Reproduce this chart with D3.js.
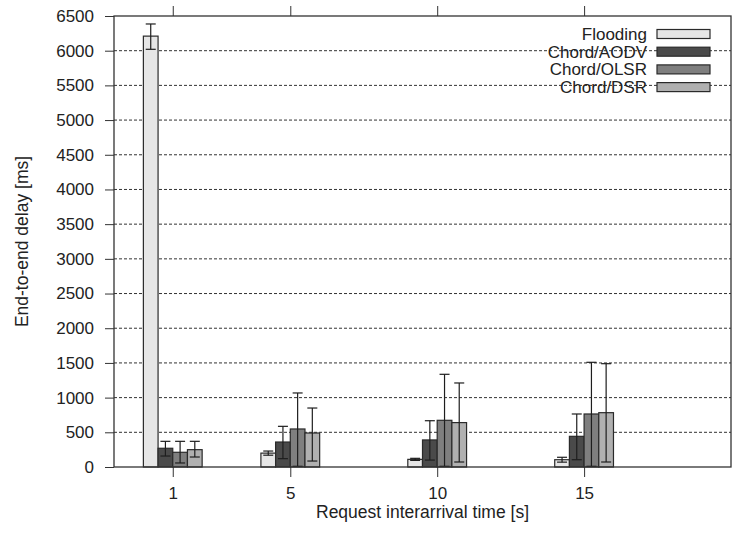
<!DOCTYPE html>
<html>
<head>
<meta charset="utf-8">
<script src="https://cdn.jsdelivr.net/npm/d3@7"></script>
<style>
  body { margin: 0; background: #fff; }
  text { font-family: "Liberation Sans", Arial, sans-serif; fill: #222; }
</style>
</head>
<body>
<div id="chart"></div>
<script>
// data
var xValues = [1, 5, 10, 15];
var seriesNames = ["Flooding", "Chord/AODV", "Chord/OLSR", "Chord/DSR"];
var seriesColors = ["#e6e6e6", "#4a4a4a", "#7f7f7f", "#b0b0b0"];

var flooding = [6210, 200, 110, 105];
var aodv = [270, 360, 390, 442];
var olsr = [212, 548, 673, 764];
var dsr = [250, 490, 640, 783];

var floodingLow = [6020, 170, 95, 70];
var floodingHigh = [6385, 230, 125, 140];
var aodvLow = [158, 120, 100, 105];
var aodvHigh = [370, 586, 667, 764];
var olsrLow = [58, 10, 10, 10];
var olsrHigh = [370, 1067, 1336, 1509];
var dsrLow = [144, 86, 72, 72];
var dsrHigh = [370, 850, 1211, 1489];

var yTicks = [0, 500, 1000, 1500, 2000, 2500, 3000, 3500, 4000, 4500, 5000, 5500, 6000, 6500];

var series = [
    { name: seriesNames[0], values: flooding, low: floodingLow, high: floodingHigh },
    { name: seriesNames[1], values: aodv, low: aodvLow, high: aodvHigh },
    { name: seriesNames[2], values: olsr, low: olsrLow, high: olsrHigh },
    { name: seriesNames[3], values: dsr, low: dsrLow, high: dsrHigh }
];
var offsets = [-0.75, -0.25, 0.25, 0.75];
var barW = 0.5;

var margin = { top: 16, right: 2, bottom: 66, left: 114 },
    width = 733 - margin.left - margin.right,
    height = 533 - margin.top - margin.bottom;

var svg = d3.select("#chart")
    .append("svg")
    .attr("width", 733)
    .attr("height", 533)
    .append("g")
    .attr("transform", "translate(" + margin.left + "," + margin.top + ")");

var x = d3.scaleLinear().domain([-1, 20]).range([0, width]);
var y = d3.scaleLinear().domain([0, 6500]).range([height, 0]);

// gridlines
svg.append("g")
    .selectAll("line")
    .data(yTicks.slice(1, -1))
    .enter()
    .append("line")
    .attr("x1", 0)
    .attr("x2", width)
    .attr("y1", function (d) { return y(d); })
    .attr("y2", function (d) { return y(d); })
    .attr("stroke", "#333")
    .attr("stroke-width", 1)
    .attr("stroke-dasharray", "3,2");

// Y axis (outward ticks)
var yAxis = svg.append("g")
    .call(d3.axisLeft(y).tickValues(yTicks).tickSize(9).tickPadding(11).tickFormat(d3.format("d")));
yAxis.select(".domain").remove();
yAxis.selectAll("line").attr("stroke", "#333");
yAxis.selectAll("text").style("font-size", "17px").style("font-family", "Liberation Sans, Arial, sans-serif").attr("fill", "#222");

// X axis bottom
var xAxis = svg.append("g")
    .attr("transform", "translate(0," + height + ")")
    .call(d3.axisBottom(x).tickValues(xValues).tickSize(10).tickPadding(10));
xAxis.select(".domain").remove();
xAxis.selectAll("line").attr("stroke", "#333");
xAxis.selectAll("text").style("font-size", "17px").style("font-family", "Liberation Sans, Arial, sans-serif").attr("fill", "#222");

// X axis top mirror ticks
var xTop = svg.append("g")
    .call(d3.axisTop(x).tickValues(xValues).tickSize(10).tickFormat(""));
xTop.select(".domain").remove();
xTop.selectAll("line").attr("stroke", "#333");

// bars
series.forEach(function (s, i) {
    svg.append("g")
        .selectAll("rect")
        .data(xValues)
        .enter()
        .append("rect")
        .attr("x", function (d) { return x(d + offsets[i] - barW / 2); })
        .attr("width", x(barW) - x(0))
        .attr("y", function (d, j) { return y(s.values[j]); })
        .attr("height", function (d, j) { return height - y(s.values[j]); })
        .attr("fill", seriesColors[i])
        .attr("stroke", "#2a2a2a")
        .attr("stroke-width", 1.2);
});

// error bars
series.forEach(function (s, i) {
    var g = svg.append("g").attr("stroke", "#1e1e1e").attr("stroke-width", 1.2);
    xValues.forEach(function (d, j) {
        var cx = x(d + offsets[i]);
        g.append("line")
            .attr("x1", cx).attr("x2", cx)
            .attr("y1", y(s.low[j])).attr("y2", y(s.high[j]));
        g.append("line")
            .attr("x1", cx - 5).attr("x2", cx + 5)
            .attr("y1", y(s.low[j])).attr("y2", y(s.low[j]));
        g.append("line")
            .attr("x1", cx - 5).attr("x2", cx + 5)
            .attr("y1", y(s.high[j])).attr("y2", y(s.high[j]));
    });
});

// frame
svg.append("rect")
    .attr("x", 0)
    .attr("y", 0)
    .attr("width", width)
    .attr("height", height)
    .attr("fill", "none")
    .attr("stroke", "#333")
    .attr("stroke-width", 1.3);

// legend
var legend = svg.append("g");
seriesNames.forEach(function (name, i) {
    var ly = 18 + i * 17.7;
    legend.append("rect")
        .attr("x", 543)
        .attr("y", ly - 4.5)
        .attr("width", 53)
        .attr("height", 9)
        .attr("fill", seriesColors[i])
        .attr("stroke", "#2a2a2a")
        .attr("stroke-width", 1.2);
    legend.append("text")
        .attr("x", 533)
        .attr("y", ly)
        .attr("dy", "0.35em")
        .attr("text-anchor", "end")
        .style("font-size", "17px")
        .text(name);
});

// axis labels
svg.append("text")
    .attr("text-anchor", "middle")
    .attr("x", x(9.5))
    .attr("y", height + 51)
    .style("font-size", "17.5px")
    .text("Request interarrival time [s]");

svg.append("text")
    .attr("text-anchor", "middle")
    .attr("transform", "rotate(-90)")
    .attr("x", -height / 2)
    .attr("y", -margin.left + 28)
    .style("font-size", "17.5px")
    .text("End-to-end delay [ms]");
</script>
</body>
</html>
